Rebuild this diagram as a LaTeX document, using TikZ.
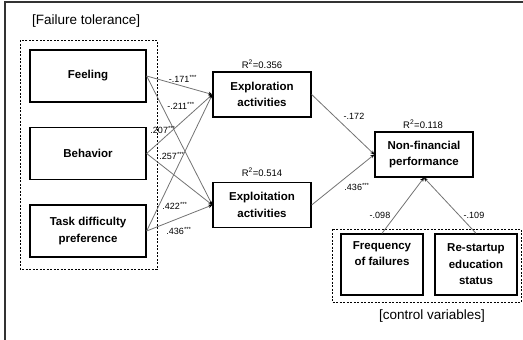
\documentclass[tikz,border=0pt]{standalone}
\usepackage{fontspec}
\setmainfont{Liberation Sans}
\usetikzlibrary{arrows.meta}

\tikzset{
	varbox/.style={draw=black, line width=1.3pt, minimum width=116pt, minimum height=52pt, align=center, font=\fontsize{11.5}{16.5}\selectfont\bfseries, inner sep=2pt},
	midbox/.style={varbox, minimum width=98pt, minimum height=45pt},
	ctrlbox/.style={varbox, minimum width=82pt, minimum height=61pt},
	frame/.style={draw=black, line width=0.9pt, dash pattern=on 2pt off 1.5pt},
	effect/.style={draw=black!55, line width=0.8pt, -{Stealth[black, length=4pt, width=3.5pt]}},
	coef/.style={font=\fontsize{9}{10}\selectfont, inner sep=0pt},
	rsq/.style={font=\fontsize{9.5}{11}\selectfont, inner sep=0pt},
	grouptitle/.style={font=\fontsize{13.5}{15}\selectfont, inner sep=0pt}
}

\begin{document}
\begin{tikzpicture}[x=1pt, y=-1pt]
	\useasboundingbox (0,0) rectangle (523,340);
	
	% outer frame
	\draw[black!80, line width=1.2pt] (5,340) -- (5,2) -- (523,2);
	
	% failure tolerance
	\node[grouptitle, anchor=west] (ftitle) at (32,21) {[Failure tolerance]};
	\draw[frame] (20,40) rectangle (157,269);
	\node[varbox] (feel) at (88,76) {Feeling};
	\node[varbox] (behav) at (88,153.5) {Behavior};
	\node[varbox] (task) at (88,231) {Task difficulty\\preference};
	
	% mediators
	\node[midbox] (explore) at (262,94.5) {Exploration\\activities};
	\node[midbox] (exploit) at (262,205) {Exploitation\\activities};
	\node[rsq] (rexplore) at (262,64) {R\textsuperscript{2}=0.356};
	\node[rsq] (rexploit) at (262,172) {R\textsuperscript{2}=0.514};
	
	% outcome
	\node[midbox] (perf) at (424,154.5) {Non-financial\\performance};
	\node[rsq] (rperf) at (423,124) {R\textsuperscript{2}=0.118};
	
	% control variables
	\draw[frame] (332,229) rectangle (521,302);
	\node[ctrlbox] (freq) at (382,264.5) {Frequency\\of failures\\\strut};
	\node[ctrlbox] (restart) at (476,264.5) {Re-startup\\education\\status};
	\node[grouptitle] (ctitle) at (432,316) {[control variables]};
	
	% paths
	\foreach \src in {feel,behav,task}
		\foreach \dst in {explore,exploit}
			\draw[effect] (\src.east) -- (\dst.west);
	\draw[effect] (explore.east) -- (perf.west);
	\draw[effect] (exploit.east) -- (perf.west);
	\draw[effect] (freq.north) -- (perf.south);
	\draw[effect] (restart.north) -- (perf.south);
	
	% coefficients
	\node[coef] (c1) at (183,79) {-.171\textsuperscript{***}};
	\node[coef] (c2) at (181,106) {-.211\textsuperscript{***}};
	\node[coef] (c3) at (163,130) {.207\textsuperscript{***}};
	\node[coef] (c4) at (172,156) {.257\textsuperscript{***}};
	\node[coef] (c5) at (175,206) {.422\textsuperscript{***}};
	\node[coef] (c6) at (179,231) {.436\textsuperscript{***}};
	\node[coef] (c7) at (354,116) {-.172};
	\node[coef] (c8) at (357,187) {.436\textsuperscript{***}};
	\node[coef] (c9) at (380,215) {-.098};
	\node[coef] (c10) at (474,215) {-.109};
\end{tikzpicture}
\end{document}
